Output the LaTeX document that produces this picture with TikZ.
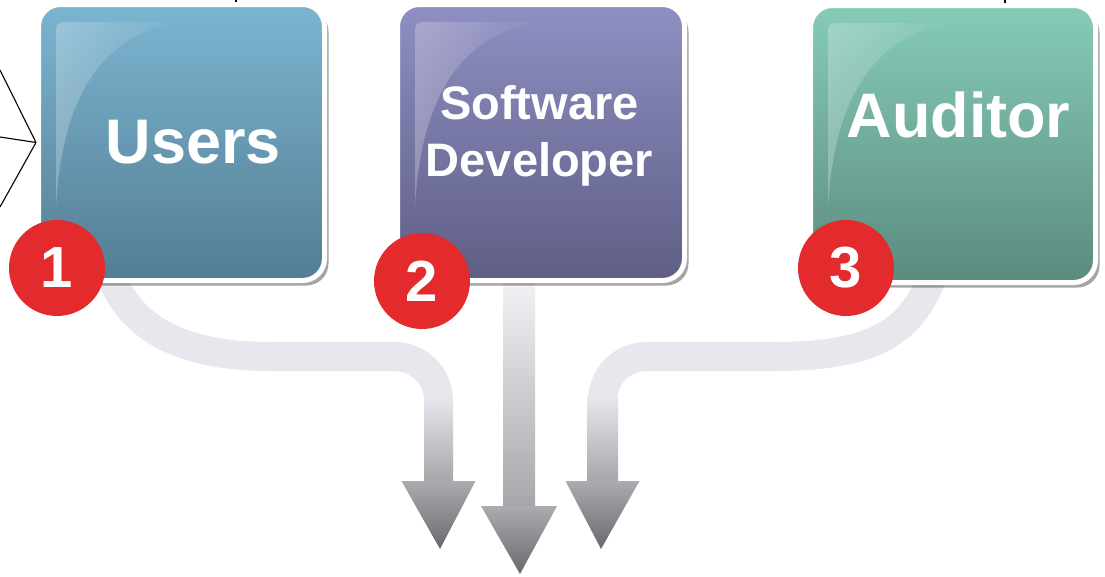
\documentclass[tikz,border=0pt]{standalone}
\usepackage{fontspec}
\setmainfont{Liberation Sans}
\usetikzlibrary{positioning,shadows,fadings}
\definecolor{usertop}{HTML}{7BB5D1}
\definecolor{userbot}{HTML}{547D93}
\definecolor{devtop}{HTML}{8F8FC3}
\definecolor{devbot}{HTML}{5E5E85}
\definecolor{audtop}{HTML}{86CBB8}
\definecolor{audbot}{HTML}{5B8B7E}
\definecolor{badgered}{HTML}{E32B2D}
\definecolor{bandcol}{HTML}{E8E7ED}
\definecolor{stemtop}{HTML}{F2F1F5}
\definecolor{stemlow}{HTML}{A7A6AB}
\definecolor{headtop}{HTML}{ACABB0}
\definecolor{headbot}{HTML}{69686C}
\pgfdeclarelayer{bg}
\pgfsetlayers{bg,main}
\tikzset{
	role/.style={rectangle, rounded corners=22pt, draw=white, line width=5pt,
		minimum width=286pt, minimum height=276pt,
		drop shadow={shadow xshift=4pt, shadow yshift=-5pt, opacity=.35, fill=black}},
	rolename/.style={text=white, font=\fontsize{63}{70}\selectfont\bfseries, align=center},
	badge/.style={circle, fill=badgered, minimum size=96pt, inner sep=0pt, text=white,
		font=\fontsize{58}{60}\selectfont\bfseries},
	gloss/.style={fill=white, opacity=.25, path fading=east},
	band/.style={draw=bandcol, line width=29pt},
	stem/.style={top color=bandcol, bottom color=stemlow},
	head/.style={top color=headtop, bottom color=headbot},
	feed/.style={black, line width=1.1pt}
}
\newcommand{\glossy}[1]{\fill[gloss] ([shift={(20,205)}]#1.north west) -- ([shift={(20,36)}]#1.north west)
	.. controls ([shift={(20,20)}]#1.north west) .. ([shift={(36,20)}]#1.north west) -- ([shift={(150,20)}]#1.north west)
	.. controls ([shift={(70,28)}]#1.north west) and ([shift={(26,90)}]#1.north west) .. ([shift={(20,205)}]#1.north west) -- cycle;}

\begin{document}
\begin{tikzpicture}[x=1pt, y=-1pt]
	\useasboundingbox (0,0) rectangle (1105,576);
	% the three roles
	\node[role, top color=usertop, bottom color=userbot] (users) at (181.5,142.5) {};
	\node[role, top color=devtop, bottom color=devbot, minimum width=287pt, right=68pt of users] (dev) {};
	\node[role, top color=audtop, bottom color=audbot, minimum width=285pt, minimum height=277pt,
		right=121pt of dev, yshift=-1.5pt] (auditor) {};
	\glossy{users}
	\glossy{dev}
	\glossy{auditor}
	\node[rolename, xshift=12pt] (userslbl) at (users.center) {Users};
	\node[rolename, font=\fontsize{47}{57}\selectfont\bfseries, xshift=-1.5pt, yshift=6.5pt] (devlbl) at (dev.center) {Software\\Developer};
	\node[rolename, xshift=5.5pt, yshift=29pt] (auditorlbl) at (auditor.center) {Auditor};
	\node[badge] (one) at ([shift={(21,-15)}]users.south west) {1};
	\node[badge] (two) at ([shift={(27,-2)}]dev.south west) {2};
	\node[badge] (three) at ([shift={(38,-17)}]auditor.south west) {3};
	% cut-off lines at the edges
	\coordinate (fa) at (0,70);
	\coordinate (fb) at (0,137);
	\coordinate (fc) at (0,207);
	\coordinate (ta) at (236,0);
	\coordinate (tb) at (1005,0);
	\draw[feed] (fa) -- (users.west) (fb) -- (users.west) (fc) -- (users.west);
	\draw[feed] (ta) -- (ta |- users.north) (tb) -- (tb |- auditor.north);
	% arrows merging below
	\coordinate (baseA) at (438.5,481);
	\coordinate (tipA) at (440,549);
	\coordinate (baseB) at (519,506);
	\coordinate (tipB) at (520,574);
	\coordinate (baseC) at (602.5,481);
	\coordinate (tipC) at (601,549);
	\coordinate (topB) at (baseB |- dev.south);
	\begin{pgfonlayer}{bg}
		\fill[white] (0,0) rectangle (1105,576);
		\draw[band] ([shift={(72,-15)}]users.south west) .. controls +(15,45) and +(-110,0) .. (270,356.5)
			[rounded corners=44pt] -- (baseA |- 0,356.5) -- ([yshift=81pt]baseA);
		\draw[band] ([shift={(128,-18)}]auditor.south west) .. controls +(-20,55) and +(115,0) .. (775,356.5)
			[rounded corners=44pt] -- (baseC |- 0,356.5) -- ([yshift=81pt]baseC);
		\shade[stem] ([shift={(-14.5,-84)}]baseA) rectangle ([xshift=14.5pt]baseA);
		\shade[stem] ([shift={(-15.5,-84)}]baseC) rectangle ([xshift=15.5pt]baseC);
		\shade[stem, top color=stemtop] ([xshift=-16pt]topB) rectangle ([xshift=16pt]baseB);
		\shade[head] ([xshift=-37pt]baseA) -- ([xshift=37pt]baseA) -- (tipA) -- cycle;
		\shade[head] ([xshift=-38pt]baseB) -- ([xshift=38pt]baseB) -- (tipB) -- cycle;
		\shade[head] ([xshift=-37pt]baseC) -- ([xshift=37pt]baseC) -- (tipC) -- cycle;
	\end{pgfonlayer}
\end{tikzpicture}
\end{document}
